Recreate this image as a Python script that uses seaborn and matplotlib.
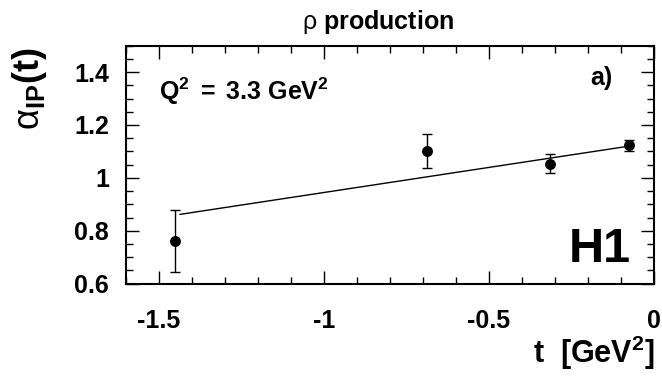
import matplotlib
matplotlib.use("Agg")
import matplotlib.pyplot as plt
from matplotlib.ticker import MultipleLocator, FixedLocator
import seaborn as sns
import pandas as pd

# Pomeron trajectory measurements, rho production at Q^2 = 3.3 GeV^2
t_values = [-1.450, -0.687, -0.316, -0.076]
alpha_values = [0.761, 1.101, 1.054, 1.123]
alpha_errors = [0.117, 0.065, 0.035, 0.022]

# Linear trajectory fit, drawn between its end points
fit_t = [-1.436, -0.076]
fit_alpha = [0.862, 1.120]

x_ticks = [-1.5, -1.0, -0.5, 0.0]
x_tick_labels = ["-1.5", "-1", "-0.5", "0"]
y_ticks = [0.6, 0.8, 1.0, 1.2, 1.4]
y_tick_labels = ["0.6", "0.8", "1", "1.2", "1.4"]

sns.set_theme(style="ticks")
plt.rcParams["font.family"] = ["Liberation Sans", "DejaVu Sans"]
plt.rcParams["mathtext.fontset"] = "custom"
plt.rcParams["mathtext.rm"] = "Liberation Sans"
plt.rcParams["mathtext.it"] = "Liberation Sans:italic"
plt.rcParams["mathtext.bf"] = "Liberation Sans:bold"
for key in ["text.color", "axes.labelcolor", "xtick.color", "ytick.color",
            "axes.edgecolor"]:
    plt.rcParams[key] = "black"

points = pd.DataFrame({"t": t_values, "alpha": alpha_values, "err": alpha_errors})
fit = pd.DataFrame({"t": fit_t, "alpha": fit_alpha})

fig = plt.figure(figsize=(6.62, 3.90), dpi=100)
ax = fig.add_axes([0.190, 0.2726, 0.798, 0.6104])

sns.lineplot(data=fit, x="t", y="alpha", ax=ax, color="black", linewidth=1.0)
ax.errorbar(points["t"], points["alpha"], yerr=points["err"], fmt="none",
            ecolor="black", elinewidth=1.0, capsize=3.8, capthick=1.0)
sns.scatterplot(data=points, x="t", y="alpha", ax=ax, color="black",
                s=62, edgecolor="black", linewidth=0, zorder=5)

ax.set_xlim(-1.6, 0.0)
ax.set_ylim(0.6, 1.5)
ax.xaxis.set_major_locator(FixedLocator(x_ticks))
ax.set_xticklabels(x_tick_labels)
ax.yaxis.set_major_locator(FixedLocator(y_ticks))
ax.set_yticklabels(y_tick_labels)
ax.xaxis.set_minor_locator(MultipleLocator(0.1))
ax.yaxis.set_minor_locator(MultipleLocator(0.05))

ax.tick_params(which="both", direction="in", top=True, right=True,
               width=1.0, color="black", labelcolor="black")
ax.tick_params(which="major", length=9.4)
ax.tick_params(which="minor", length=5.0)
ax.tick_params(axis="x", which="major", pad=18)
ax.tick_params(axis="y", which="major", pad=12)
for lab in ax.get_xticklabels() + ax.get_yticklabels():
    lab.set_fontsize(18)
    lab.set_fontweight("bold")
    lab.set_color("black")

for spine in ax.spines.values():
    spine.set_linewidth(1.5)
    spine.set_color("black")

ax.set_xlabel("")
ax.set_ylabel("")

fig.text(0.989, 0.069, r"t  [GeV$^\mathbf{2}$]", ha="right", va="baseline",
         fontsize=22, fontweight="bold", color="black")
fig.text(0.044, 0.878, r"$\mathrm{\alpha}_{\mathbf{IP}}\mathbf{(t)}$",
         ha="center", va="top", rotation=90, fontsize=26, color="black")
fig.text(0.571, 0.926, r"$\mathrm{\rho}$ production", ha="center",
         va="baseline", fontsize=18, fontweight="bold", color="black")

ax.text(0.063, 0.772, r"$\mathbf{Q^{2}\ =\ 3.3\ GeV^{2}}$",
        transform=ax.transAxes, ha="left", va="baseline", fontsize=18,
        color="black")
ax.text(0.90, 0.866, "a)", transform=ax.transAxes, ha="center",
        va="center", fontsize=18, fontweight="bold", color="black")
ax.text(0.898, 0.091, "H1", transform=ax.transAxes, ha="center",
        va="baseline", fontsize=35, fontweight="bold", color="black")

fig.savefig("out.png", dpi=100)
